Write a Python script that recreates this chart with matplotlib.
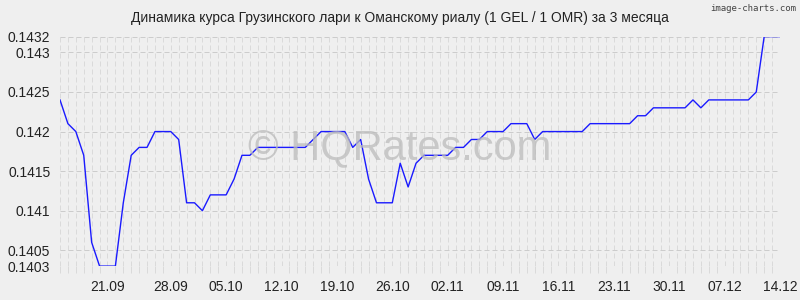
import numpy as np
import matplotlib.pyplot as plt
from matplotlib.ticker import MultipleLocator

plt.rcParams['font.family'] = ['Liberation Sans', 'DejaVu Sans']

# курс GEL/OMR, по дням с 14.09 по 14.12
rates = [0.1424, 0.1421, 0.1420, 0.1417, 0.1406, 0.1403, 0.1403, 0.1403, 0.1411, 0.1417,
         0.1418, 0.1418, 0.1420, 0.1420, 0.1420, 0.1419, 0.1411, 0.1411, 0.1410, 0.1412,
         0.1412, 0.1412, 0.1414, 0.1417, 0.1417, 0.1418, 0.1418, 0.1418, 0.1418, 0.1418,
         0.1418, 0.1418, 0.1419, 0.1420, 0.1420, 0.1420, 0.1420, 0.1418, 0.1419, 0.1414,
         0.1411, 0.1411, 0.1411, 0.1416, 0.1413, 0.1416, 0.1417, 0.1417, 0.1417, 0.1417,
         0.1418, 0.1418, 0.1419, 0.1419, 0.1420, 0.1420, 0.1420, 0.1421, 0.1421, 0.1421,
         0.1419, 0.1420, 0.1420, 0.1420, 0.1420, 0.1420, 0.1420, 0.1421, 0.1421, 0.1421,
         0.1421, 0.1421, 0.1421, 0.1422, 0.1422, 0.1423, 0.1423, 0.1423, 0.1423, 0.1423,
         0.1424, 0.1423, 0.1424, 0.1424, 0.1424, 0.1424, 0.1424, 0.1424, 0.1425, 0.1432,
         0.1432, 0.1432]

x_ticks = [6, 14, 21, 28, 35, 42, 49, 56, 63, 70, 77, 84, 91]
x_labels = ['21.09', '28.09', '05.10', '12.10', '19.10', '26.10', '02.11',
            '09.11', '16.11', '23.11', '30.11', '07.12', '14.12']
y_ticks = [0.1403, 0.1405, 0.141, 0.1415, 0.142, 0.1425, 0.143, 0.1432]
y_labels = ['0.1403', '0.1405', '0.141', '0.1415', '0.142', '0.1425', '0.143', '0.1432']

title = 'Динамика курса Грузинского лари к Оманскому риалу (1 GEL / 1 OMR) за 3 месяца'

bg = '#efefef'
fig = plt.figure(figsize=(8, 3), dpi=100, facecolor=bg)
ax = fig.add_axes([0.075, 0.113, 0.9, 0.765], facecolor=bg)

days = np.arange(len(rates))
ax.plot(days, rates, color='#1a1aff', linewidth=1.0, zorder=3)

ax.set_xlim(0, len(rates) - 1)
ax.set_ylim(0.1403, 0.1432)

ax.set_xticks(x_ticks)
ax.set_xticklabels(x_labels)
ax.set_yticks(y_ticks)
ax.set_yticklabels(y_labels)
ax.xaxis.set_minor_locator(MultipleLocator(1))

ax.grid(True, which='major', axis='y', color='#cccccc', linewidth=0.72, linestyle=(0, (5, 3)))
ax.grid(True, which='both', axis='x', color='#dadada', linewidth=0.72, linestyle=(0, (5, 3)))

ax.tick_params(axis='both', which='major', length=0, labelsize=10, labelcolor='#222222')
ax.tick_params(axis='y', pad=7)
ax.tick_params(axis='x', pad=10)
ax.tick_params(axis='x', which='minor', length=5, color='#dadada', width=0.72)
for s in ax.spines.values():
    s.set_visible(False)

fig.text(0.5, 0.94, title, ha='center', va='center', fontsize=10, color='#222222')
fig.text(0.995, 0.972, 'image-charts.com', ha='right', va='center', fontsize=6.5,
         color='#444444', family='DejaVu Sans Mono')
fig.text(0.5, 0.507, '© HQRates.com', ha='center', va='center', fontsize=30,
         color='#bbbbbb', alpha=0.75, zorder=0)

fig.savefig('out.png', dpi=100, facecolor=bg)
